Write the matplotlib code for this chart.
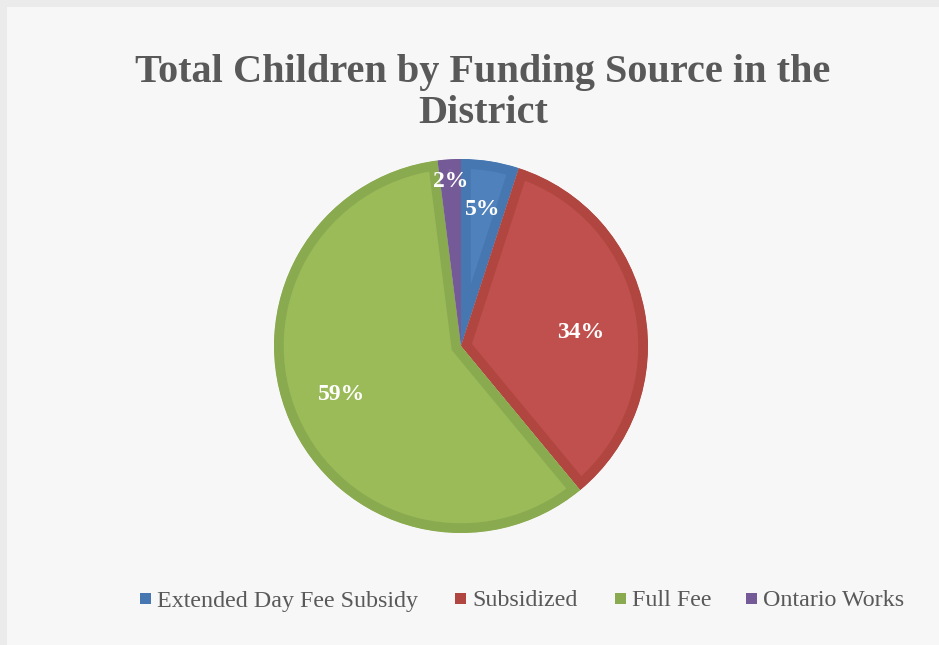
import numpy as np
import matplotlib.pyplot as plt
from matplotlib.patches import Rectangle

labels = ["Extended Day Fee Subsidy", "Subsidized", "Full Fee", "Ontario Works"]
values = [5, 34, 59, 2]
pct_labels = ["5%", "34%", "59%", "2%"]

fill_colors = ["#4f81bd", "#c0504d", "#9bbb59", "#8064a2"]
edge_colors = ["#4677b0", "#b0463f", "#8aaa50", "#755a98"]
# label placement (fraction of radius, extra turn in degrees)
label_dist = [0.74, 0.645, 0.686, 0.88]
label_turn = [0.0, 4.6, 1.4, 0.0]

W, H = 939, 645
fig = plt.figure(figsize=(W / 100, H / 100), dpi=100, facecolor="#f7f7f7")
# grey strips on the left and top
fig.patches.append(Rectangle((0, 0), 7 / W, 1, transform=fig.transFigure,
                             facecolor="#ebebeb", edgecolor="none", zorder=-10))
fig.patches.append(Rectangle((0, (H - 7) / H), 1, 7 / H, transform=fig.transFigure,
                             facecolor="#ebebeb", edgecolor="none", zorder=-10))

cx, cy, r = 461, 346, 187
ax = fig.add_axes([(cx - r) / W, (H - cy - r) / H, 2 * r / W, 2 * r / H])

wedges, _ = ax.pie(values, colors=fill_colors, startangle=90, counterclock=False,
                   radius=1, wedgeprops=dict(linewidth=14))
# inset border: stroke each wedge, clipped to its own outline
for w, ec in zip(wedges, edge_colors):
    w.set_edgecolor(ec)
    w.set_clip_on(True)
    w.set_clip_path(w)
ax.set_xlim(-1, 1)
ax.set_ylim(-1, 1)
ax.axis("off")

# percentage labels
total = sum(values)
start = 0.0
for v, txt, d, t in zip(values, pct_labels, label_dist, label_turn):
    mid = (start + v / 2) / total * 2 * np.pi + np.radians(t)
    start += v
    ax.text(d * np.sin(mid), d * np.cos(mid), txt, ha="center", va="center",
            color="white", fontsize=17, fontweight="bold", family="Liberation Serif")

fig.text(483 / W, 1 - 93 / H, "Total Children by Funding Source in the\nDistrict",
         ha="center", va="center", fontsize=29, fontweight="bold",
         family="Liberation Serif", color="#595959", linespacing=1.17)

# legend
leg_x = [140, 455, 615, 746]
for x, lab, c in zip(leg_x, labels, edge_colors):
    fig.patches.append(Rectangle((x / W, 1 - 604 / H), 11 / W, 11 / H,
                                 transform=fig.transFigure, facecolor=c, edgecolor="none"))
    fig.text((x + 17) / W, 1 - 601 / H, lab, ha="left", va="center", fontsize=17.3,
             family="Liberation Serif", color="#595959")

fig.savefig("out.png", dpi=100, facecolor=fig.get_facecolor())
